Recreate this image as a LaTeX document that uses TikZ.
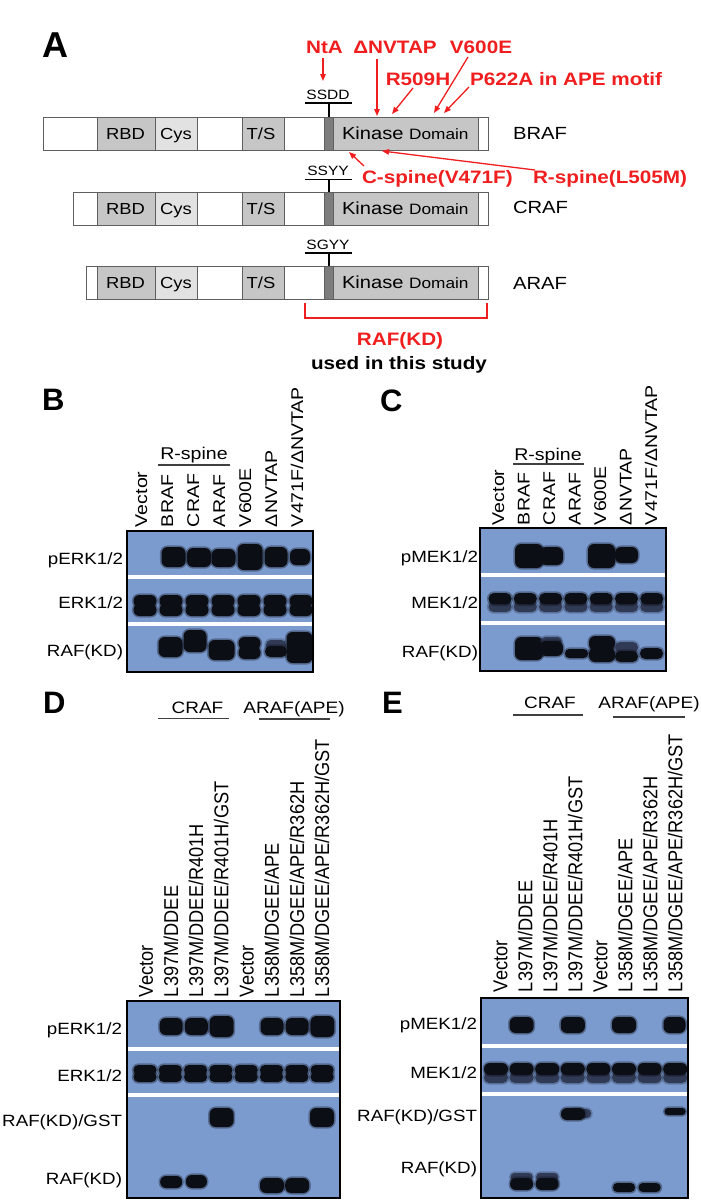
\documentclass[tikz,border=0pt]{standalone}
\usepackage{fontspec}
\setmainfont{Liberation Sans}
\newfontfamily\wide[FakeStretch=1.15]{Liberation Sans}
\usetikzlibrary{arrows.meta}
\definecolor{redc}{RGB}{240,30,30}
\definecolor{segg}{RGB}{198,198,198}
\definecolor{cysg}{RGB}{226,226,226}
\definecolor{stripe}{RGB}{125,125,125}
\definecolor{outl}{RGB}{95,95,95}
\definecolor{blot}{RGB}{123,155,206}
\definecolor{bandc}{RGB}{12,14,22}
\definecolor{bandl}{RGB}{48,58,85}
\newcommand\fs[1]{\fontsize{#1}{#1}\selectfont}
\tikzset{
 every node/.style={inner sep=0pt, outer sep=0pt},
 panel/.style={font=\fs{31}\bfseries, anchor=base west},
 segtxt/.style={font=\wide\fs{16}, anchor=base},
 rafname/.style={font=\wide\fs{17.6}, anchor=base west},
 motif/.style={font=\wide\fs{13.5}, anchor=base},
 motifline/.style={draw=black, line width=1.3pt},
 redtxt/.style={font=\wide\fs{18}\bfseries, text=redc},
 redarr/.style={draw=redc, line width=1.3pt, -{Triangle[length=7pt,width=5.5pt]}},
 rowlab/.style={font=\wide\fs{16.3}, anchor=base east},
 lanebc/.style={font=\wide\fs{17}, rotate=90, anchor=base west},
 lanede/.style={font=\fs{18.2}, rotate=90, anchor=base west},
 blotframe/.style={draw=black, line width=2pt},
 grouptxt/.style={font=\wide\fs{17}, anchor=base},
 grouptxtde/.style={font=\wide\fs{16.5}, anchor=base},
 groupline/.style={draw=black!75, line width=1.1pt},
 segbox/.style={draw=outl, line width=0.8pt},
}
% band with soft halo: x, y1, y2, width, colour
\newcommand\bndcol[5]{%
 \pgfmathsetmacro\yya{#2}%
 \pgfmathsetmacro\yyb{#3}%
 \pgfmathsetmacro\xxa{(#1)-(#4)/2}%
 \pgfmathsetmacro\xxb{(#1)+(#4)/2}%
 \pgfmathsetmacro\rr{max(min(abs(\yyb-\yya)/2-0.3,6),1)}%
 \pgfmathsetmacro\rh{\rr+1.6}%
 \fill[#5, opacity=.35, rounded corners=\rh pt] ({\xxa-1.6},{\yya-1.6}) rectangle ({\xxb+1.6},{\yyb+1.6});
 \fill[#5, rounded corners=\rr pt] (\xxa,\yya) rectangle (\xxb,\yyb);}
\newcommand\bnd[4]{\bndcol{#1}{#2}{#3}{#4}{bandc}}
\newcommand\bndf[4]{\bndcol{#1}{#2}{#3}{#4}{bandl}}
% doublet
\newcommand\dbl[4]{\bnd{#1}{#2}{(#2+#3)/2+1.5}{#4}\bnd{#1}{(#2+#3)/2-1.5}{#3}{#4}}
% MEK doublet: dark upper, lighter lower
\newcommand\mek[4]{\bndf{#1}{#2+(#3-#2)*0.45}{#3}{#4}\bnd{#1}{#2}{#2+(#3-#2)*0.6}{#4}}
% RAF domain bar: name, left x, top y
\newcommand\rafbar[3]{%
 \draw[segbox, fill=white] (#2,#3) rectangle (488,#3+33);
 \draw[segbox, fill=segg] (97,#3) rectangle (155,#3+33);
 \draw[segbox, fill=cysg] (155,#3) rectangle (197,#3+33);
 \draw[segbox, fill=segg] (242,#3) rectangle (284,#3+33);
 \draw[segbox, fill=segg] (333,#3) rectangle (478,#3+33);
 \draw[segbox, fill=stripe] (324,#3) rectangle (333,#3+33);
 \node[segtxt] (#1rbd) at (125.5,#3+22) {RBD};
 \node[segtxt] (#1cys) at (176,#3+22) {Cys};
 \node[segtxt] (#1ts) at (261,#3+22) {T/S};
 \node[segtxt, anchor=base west] (#1kd) at (342,#3+22) {\fs{17.5}Kinase {\fs{15}Domain}};
}
\begin{document}
\begin{tikzpicture}[x=1pt, y=-1pt]
\useasboundingbox[fill=white] (0,0) rectangle (701,1200);

% ================= Panel A =================
\node[panel, font=\fs{36}\bfseries] (pA) at (42,57) {A};
\rafbar{b}{43}{117}
\rafbar{c}{73}{192}
\rafbar{a}{86}{266}
\node[rafname] (nbraf) at (513,139) {BRAF};
\node[rafname] (ncraf) at (513,213.5) {CRAF};
\node[rafname] (naraf) at (513,289) {ARAF};

\node[motif] (ssdd) at (328,99) {SSDD};
\draw[motifline] (305,103) -- (352,103);
\draw[motifline] (329,103) -- (329,117);
\node[motif] (ssyy) at (328,175) {SSYY};
\draw[motifline] (305,179.5) -- (352,179.5);
\draw[motifline] (329,179.5) -- (329,192);
\node[motif] (sgyy) at (328,249) {SGYY};
\draw[motifline] (305,253) -- (352,253);
\draw[motifline] (329,253) -- (329,266);

\node[redtxt, anchor=base] (nta) at (324.5,53) {NtA};
\node[redtxt, anchor=base] (dnv) at (395,53) {ΔNVTAP};
\node[redtxt, anchor=base] (v600) at (481,53) {V600E};
\node[redtxt, anchor=base] (r509) at (418,85) {R509H};
\node[redtxt, anchor=base west] (p622) at (470,85) {P622A in APE motif};
\node[redtxt, anchor=base west] (cspine) at (362,183) {C-spine(V471F)};
\node[redtxt, anchor=base west] (rspine) at (533,183) {R-spine(L505M)};

\coordinate (ntaS) at (323,58);   \coordinate (ntaT) at (323,81);
\coordinate (dnvS) at (377,59);   \coordinate (dnvT) at (377,116);
\coordinate (r509S) at (413,88);  \coordinate (r509T) at (392,114);
\coordinate (v600S) at (468,57);  \coordinate (v600T) at (434,113);
\coordinate (p622S) at (469,87);  \coordinate (p622T) at (444,113);
\coordinate (cspS) at (364,166);  \coordinate (cspT) at (349,152);
\coordinate (rspS) at (535,170);  \coordinate (rspT) at (382,151);
\draw[redarr] (ntaS) -- (ntaT);
\draw[redarr] (dnvS) -- (dnvT);
\draw[redarr] (r509S) -- (r509T);
\draw[redarr] (v600S) -- (v600T);
\draw[redarr] (p622S) -- (p622T);
\draw[redarr] (cspS) -- (cspT);
\draw[redarr] (rspS) -- (rspT);

\coordinate (brL) at (305,303); \coordinate (brR) at (487,303);
\draw[redc, line width=1.3pt] (brL) -- (305,318) -- (487,318) -- (brR);
\node[redtxt, anchor=base] (rafkd) at (400,345) {RAF(KD)};
\node[font=\wide\fs{18}\bfseries, anchor=base] (used) at (399,369) {used in this study};

% ================= Panel B =================
\node[panel] (pB) at (42,410) {B};
\fill[blot] (127,531) rectangle (313,672);
\fill[white] (128,575) rectangle (312,579);
\fill[white] (128,622) rectangle (312,626);
% pERK
\bnd{173.5}{547}{567}{24} \bnd{199}{548}{567}{24} \bnd{223.5}{549}{567}{24}
\bnd{250}{544}{570}{25} \bnd{276}{547}{567}{23} \bnd{300}{549}{565}{20}
% ERK
\foreach \x in {145,171,197,223,249,275,301} {\dbl{\x}{595}{616}{23}}
% RAF(KD)
\bnd{170.5}{637}{657}{24} \bnd{195}{630}{652}{23} \bnd{221.5}{640}{660}{26}
\dbl{249.5}{637}{659}{22} \bndf{276}{640}{650}{20} \bnd{276}{646}{657}{22}
\bnd{299.5}{632}{663}{26}
\draw[blotframe] (127,531) rectangle (313,672);
\node[rowlab] (bpERK) at (123,564) {pERK1/2};
\node[rowlab] (bERK) at (123,608) {ERK1/2};
\node[rowlab] (bRAF) at (123,656) {RAF(KD)};
\foreach \lab [count=\i from 0] in {Vector,BRAF,CRAF,ARAF,V600E,ΔNVTAP,V471F/ΔNVTAP}
  {\node[lanebc] (bl\i) at ({141+26*\i+6},527) {\lab};}
\node[grouptxt] (brsp) at (194,459) {R-spine};
\draw[groupline] (158,465) -- (230,465);

% ================= Panel C =================
\node[panel] (pC) at (380,411) {C};
\fill[blot] (480,528) rectangle (666,671);
\fill[white] (481,573) rectangle (665,577);
\fill[white] (481,621) rectangle (665,625);
% pMEK
\bnd{529}{544}{568}{28} \bnd{551.5}{547}{565}{23} \bnd{601.5}{544}{568}{27} \bnd{626.5}{547}{563}{23}
% MEK
\foreach \i in {0,...,6} {\mek{500+25.3*\i}{593}{612}{23}}
% RAF(KD)
\bnd{529}{637}{660}{28} \bndf{551.5}{637}{645}{20} \bnd{551.5}{641}{656}{23}
\bnd{576.5}{649}{658}{23} \dbl{602}{636}{662}{26}
\bndf{626.5}{642}{653}{23} \bnd{626.5}{651}{662}{23} \bnd{651.5}{648}{659}{23}
\draw[blotframe] (480,528) rectangle (666,671);
\node[rowlab] (cpMEK) at (478,562) {pMEK1/2};
\node[rowlab] (cMEK) at (478,608) {MEK1/2};
\node[rowlab] (cRAF) at (478,657) {RAF(KD)};
\foreach \lab [count=\i from 0] in {Vector,BRAF,CRAF,ARAF,V600E,ΔNVTAP,V471F/ΔNVTAP}
  {\node[lanebc] (cl\i) at ({498+25.5*\i+6},525) {\lab};}
\node[grouptxt] (crsp) at (548,460) {R-spine};
\draw[groupline] (513,464) -- (584,464);

% ================= Panel D =================
\node[panel] (pD) at (43,713) {D};
\fill[blot] (127,1001) rectangle (340,1198);
\fill[white] (128,1047) rectangle (339,1051);
\fill[white] (128,1093) rectangle (339,1097);
\foreach \i in {1,2,5,6} {\bnd{146+25.2*\i}{1018}{1035}{23}}
\foreach \i in {3,7} {\bnd{146+25.2*\i}{1016}{1037}{24}}
\foreach \i in {0,...,7} {\dbl{145+25.3*\i}{1065}{1082}{23}}
\bnd{221.6}{1108}{1127}{24} \bnd{322}{1108}{1127}{24}
\bnd{171.2}{1176}{1188}{22} \bnd{196.4}{1175}{1188}{21}
\bnd{272}{1178}{1193}{24} \bnd{297.2}{1178}{1193}{24}
\draw[blotframe] (127,1001) rectangle (340,1198);
\node[rowlab] (dpERK) at (122,1034) {pERK1/2};
\node[rowlab] (dERK) at (122,1081) {ERK1/2};
\node[rowlab] (dGST) at (122,1126) {RAF(KD)/GST};
\node[rowlab] (dRAF) at (122,1184) {RAF(KD)};
\foreach \lab [count=\i from 0] in {Vector,L397M/DDEE,L397M/DDEE/R401H,L397M/DDEE/R401H/GST,Vector,L358M/DGEE/APE,L358M/DGEE/APE/R362H,L358M/DGEE/APE/R362H/GST}
  {\node[lanede] (dl\i) at ({145.5+25.2*\i+7.3},997) {\scalebox{1}[1.1]{\lab}};}
\node[grouptxtde] (dcraf) at (197.5,713) {CRAF};
\draw[groupline] (158,718.5) -- (229,718.5);
\node[grouptxtde] (daraf) at (294,713) {ARAF(APE)};
\draw[groupline] (259,719) -- (330,719);

% ================= Panel E =================
\node[panel] (pE) at (382,713) {E};
\fill[blot] (481,998) rectangle (688,1198);
\fill[white] (482,1044) rectangle (687,1048);
\fill[white] (482,1092) rectangle (687,1096);
\foreach \i in {1,3,5} {\bnd{496+25.6*\i}{1017}{1033}{24}}
\bnd{674.5}{1017}{1033}{22}
\foreach \i in {0,...,7} {\mek{496+25.6*\i}{1063}{1083}{24}}
\bndf{580}{1109}{1118}{22}
\bnd{573}{1108}{1120}{24} \bnd{675}{1108}{1115}{21}
\foreach \i in {1,2} {\bndf{496+25.6*\i}{1173}{1181}{22} \bnd{496+25.6*\i}{1178}{1190}{23}}
\foreach \i in {5,6} {\bnd{496+25.6*\i}{1183}{1192}{22}}
\draw[blotframe] (481,998) rectangle (688,1198);
\node[rowlab] (epMEK) at (477,1029) {pMEK1/2};
\node[rowlab] (eMEK) at (477,1078) {MEK1/2};
\node[rowlab] (eGST) at (477,1121) {RAF(KD)/GST};
\node[rowlab] (eRAF) at (477,1173) {RAF(KD)};
\foreach \lab [count=\i from 0] in {Vector,L397M/DDEE,L397M/DDEE/R401H,L397M/DDEE/R401H/GST,Vector,L358M/DGEE/APE,L358M/DGEE/APE/R362H,L358M/DGEE/APE/R362H/GST}
  {\node[lanede] (el\i) at ({500+25*\i+7.3},992) {\scalebox{1}[1.1]{\lab}};}
\node[grouptxtde] (ecraf) at (550,708) {CRAF};
\draw[groupline] (513,715) -- (583,715);
\node[grouptxtde] (earaf) at (649,708) {ARAF(APE)};
\draw[groupline] (613,717) -- (685,717);
\end{tikzpicture}
\end{document}
